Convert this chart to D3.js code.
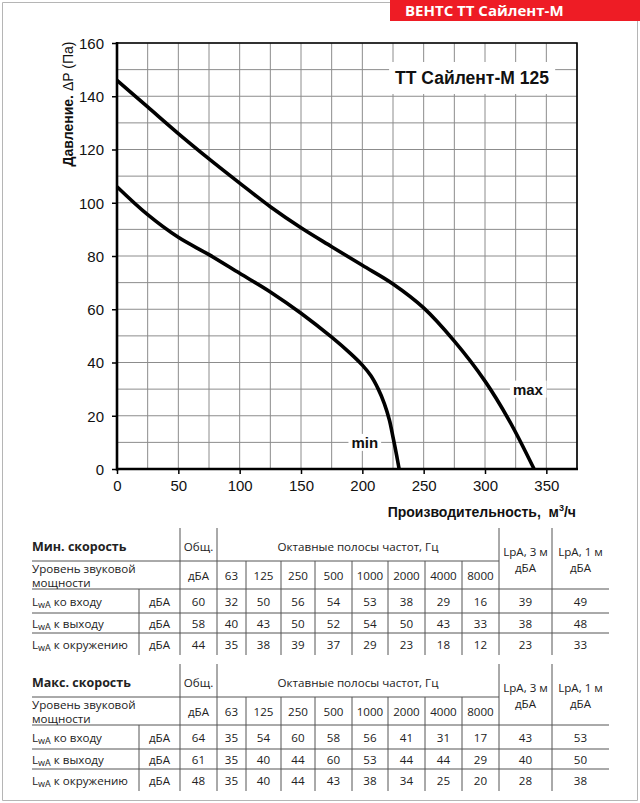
<!DOCTYPE html>
<html>
<head>
<meta charset="utf-8">
<script src="https://d3js.org/d3.v7.min.js"></script>
<style>
  body { margin: 0; padding: 0; background: #fff; }
  svg { display: block; }
  .tick text { font-family: "Liberation Sans", Arial, sans-serif; font-size: 15px; fill: #111; }
  .tick line { stroke: #000; stroke-width: 1.5; }
  .tbl { font-family: "Open Sans", sans-serif; font-size: 11.6px; fill: #222; }
</style>
</head>
<body>
<svg id="chart" width="640" height="803"></svg>
<script>
// fan curve data, pressure (Pa) vs airflow (m3/h)
var minFlow     = [0, 25, 50, 75, 100, 125, 150, 175, 190, 200, 207, 213, 218, 222, 225, 228, 230];
var minPressure = [106, 95.5, 87, 80.5, 73.5, 66.5, 58.5, 49.5, 43.5, 39, 35, 30, 24.5, 18.5, 12, 5, 0];
var maxFlow     = [0, 25, 50, 75, 100, 125, 150, 175, 200, 225, 250, 275, 300, 320, 340];
var maxPressure = [146, 136, 126, 116.5, 107.4, 98.5, 90.6, 83.5, 76.5, 69.5, 60.5, 48, 33, 18, 0];

var xTicks = [0, 50, 100, 150, 200, 250, 300, 350];
var yTicks = [0, 20, 40, 60, 80, 100, 120, 140, 160];

// sound tables
var octaveBands = ["63", "125", "250", "500", "1000", "2000", "4000", "8000"];
var rowLabels = ["ко входу", "к выходу", "к окружению"];
var minTotal = [60, 58, 44];
var minOctaves = [
  [32, 50, 56, 54, 53, 38, 29, 16],
  [40, 43, 50, 52, 54, 50, 43, 33],
  [35, 38, 39, 37, 29, 23, 18, 12]
];
var minLpA3 = [39, 38, 23];
var minLpA1 = [49, 48, 33];
var maxTotal = [64, 61, 48];
var maxOctaves = [
  [35, 54, 60, 58, 56, 41, 31, 17],
  [35, 40, 44, 60, 53, 44, 44, 29],
  [35, 40, 44, 43, 38, 34, 25, 20]
];
var maxLpA3 = [43, 40, 28];
var maxLpA1 = [53, 50, 38];

var svg = d3.select("#chart");

// outer frame + red banner
svg.append("path")
  .attr("d", "M390,2.5 H2.5 V800.5 H637.5 V21")
  .attr("fill", "none").attr("stroke", "#b5b5b5").attr("stroke-width", 1);
svg.append("rect").attr("x", 390).attr("y", 0).attr("width", 250).attr("height", 21).attr("fill", "#ee1c25");
svg.append("text").attr("x", 405).attr("y", 16)
  .style("font-family", "'Open Sans', sans-serif").style("font-weight", "bold").style("font-size", "15px")
  .attr("fill", "#fff").text("ВЕНТС ТТ Сайлент-М");

// scales
var x = d3.scaleLinear().domain([0, 375]).range([117, 577]);
var y = d3.scaleLinear().domain([0, 160]).range([469, 43]);

// grid
var grid = svg.append("g");
grid.selectAll(".vg").data(d3.range(25, 376, 25)).enter().append("line")
  .attr("x1", d => x(d)).attr("x2", d => x(d)).attr("y1", y(0)).attr("y2", y(160))
  .attr("stroke", "#8c8c8c").attr("stroke-width", 1);
grid.selectAll(".hg").data(d3.range(10, 161, 10)).enter().append("line")
  .attr("x1", x(0)).attr("x2", x(375)).attr("y1", d => y(d)).attr("y2", d => y(d))
  .attr("stroke", "#8c8c8c").attr("stroke-width", 1);

// frame top/right
svg.append("path")
  .attr("d", "M" + x(0) + "," + y(160) + " H" + x(375) + " V" + y(0))
  .attr("fill", "none").attr("stroke", "#000").attr("stroke-width", 1.6);

// axes
var yAxis = d3.axisLeft(y).tickValues(yTicks).tickSize(5).tickPadding(8);
var gy = svg.append("g").attr("transform", "translate(" + x(0) + ",0)").call(yAxis);
gy.select(".domain").remove();
gy.selectAll(".tick text").attr("dy", "0.35em");

var xAxis = d3.axisBottom(x).tickValues(xTicks).tickSize(5).tickPadding(6);
var gx = svg.append("g").attr("transform", "translate(0," + y(0) + ")").call(xAxis);
gx.select(".domain").remove();

svg.append("line").attr("x1", x(0)).attr("x2", x(0)).attr("y1", y(160) - 1).attr("y2", y(0) + 1.5)
  .attr("stroke", "#000").attr("stroke-width", 2.6);
svg.append("line").attr("x1", x(0) - 1).attr("x2", x(375) + 1).attr("y1", y(0)).attr("y2", y(0))
  .attr("stroke", "#000").attr("stroke-width", 2.6);

// curves
var line = d3.line().x(d => x(d[0])).y(d => y(d[1])).curve(d3.curveCatmullRom.alpha(0.5));
svg.append("path").datum(d3.zip(minFlow, minPressure)).attr("d", line)
  .attr("fill", "none").attr("stroke", "#000").attr("stroke-width", 3.6);
svg.append("path").datum(d3.zip(maxFlow, maxPressure)).attr("d", line)
  .attr("fill", "none").attr("stroke", "#000").attr("stroke-width", 3.6);

// curve labels with white background
function boxLabel(cx, cy, txt, size, padX, padY) {
  var t = svg.append("text").attr("x", cx).attr("y", cy).attr("text-anchor", "middle")
    .attr("dominant-baseline", "central")
    .style("font-family", "'Liberation Sans', Arial, sans-serif").style("font-weight", "bold")
    .style("font-size", size + "px").attr("fill", "#111").text(txt);
  var b = t.node().getBBox();
  svg.insert("rect", function () { return t.node(); })
    .attr("x", b.x - padX).attr("y", b.y - padY).attr("width", b.width + 2 * padX).attr("height", b.height + 2 * padY)
    .attr("fill", "#fff");
}
boxLabel(x(202), y(10), "min", 15, 3, 0);
boxLabel(x(335), y(30), "max", 15, 3, 0);
boxLabel(472, 78, "ТТ Сайлент-М 125", 17.5, 6, 6);

// axis titles
svg.append("text").attr("x", 576).attr("y", 517).attr("text-anchor", "end")
  .style("font-family", "'Liberation Sans', Arial, sans-serif").style("font-weight", "bold").style("font-size", "14px")
  .attr("fill", "#111")
  .html("Производительность,&#160; м<tspan dy='-6' font-size='9px'>3</tspan><tspan dy='6'>/ч</tspan>");

svg.append("text").attr("transform", "translate(73,104) rotate(-90)").attr("text-anchor", "middle")
  .style("font-family", "'Liberation Sans', Arial, sans-serif").style("font-size", "14px").attr("fill", "#111")
  .html("<tspan font-weight='bold'>Давление. </tspan>ΔP (Па)");

// ---- sound tables ----
var colX = [32, 139, 180, 217, 246, 281, 315, 352, 388, 425, 462, 499, 552, 609];
var lineCol = "#555";

function drawTable(top, rows, title, total, oct, l3, l1) {
  var g = svg.append("g").attr("class", "tbl");
  var r0 = top, r1 = top + 33, r2 = top + 61, r3 = top + 85, r4 = top + 105, r5 = top + 127;
  function hl(y0, xa, xb) {
    g.append("line").attr("x1", xa).attr("x2", xb).attr("y1", y0).attr("y2", y0)
      .attr("stroke", lineCol).attr("stroke-width", 1);
  }
  function vl(x0, ya, yb) {
    g.append("line").attr("x1", x0).attr("x2", x0).attr("y1", ya).attr("y2", yb)
      .attr("stroke", lineCol).attr("stroke-width", 1);
  }
  hl(r1, colX[0], colX[11]);
  hl(r2, colX[0], colX[13]);
  hl(r3, colX[0], colX[13]);
  hl(r4, colX[0], colX[13]);
  vl(colX[2], r0, r5); vl(colX[3], r0, r5);
  vl(colX[11], r0, r5); vl(colX[12], r0, r5);
  for (var i = 4; i <= 10; i++) vl(colX[i], r1, r5);
  vl(colX[1], r2, r5);

  function txt(xx, yy, s, anchor, bold) {
    return g.append("text").attr("x", xx).attr("y", yy).attr("text-anchor", anchor || "middle")
      .attr("dominant-baseline", "central").style("font-weight", bold ? "bold" : "normal").text(s);
  }
  function mid(i) { return (colX[i] + colX[i + 1]) / 2; }

  txt(colX[0], (r0 + r1) / 2 + 2, title, "start", true).style("font-size", "12.5px");
  txt(mid(2), (r0 + r1) / 2 + 2, "Общ.");
  txt((colX[3] + colX[11]) / 2, (r0 + r1) / 2 + 2, "Октавные полосы частот, Гц");
  txt(mid(11), (r0 + r2) / 2 - 7, "LpA, 3 м");
  txt(mid(11), (r0 + r2) / 2 + 9, "дБА");
  txt(mid(12), (r0 + r2) / 2 - 7, "LpA, 1 м");
  txt(mid(12), (r0 + r2) / 2 + 9, "дБА");

  txt(colX[0], (r1 + r2) / 2 - 7, "Уровень звуковой", "start");
  txt(colX[0], (r1 + r2) / 2 + 7, "мощности", "start");
  txt(mid(2), (r1 + r2) / 2, "дБА");
  octaveBands.forEach(function (b, j) { txt(mid(3 + j), (r1 + r2) / 2, b); });

  var rowMid = [(r2 + r3) / 2, (r3 + r4) / 2, (r4 + r5) / 2];
  rows.forEach(function (lab, k) {
    var t = txt(colX[0], rowMid[k], null, "start");
    t.append("tspan").text("L");
    t.append("tspan").attr("font-size", "9px").attr("dy", 3).text("wA");
    t.append("tspan").attr("dy", -3).text(" " + lab);
    txt(mid(1), rowMid[k], "дБА");
    txt(mid(2), rowMid[k], total[k]);
    oct[k].forEach(function (v, j) { txt(mid(3 + j), rowMid[k], v); });
    txt(mid(11), rowMid[k], l3[k]);
    txt(mid(12), rowMid[k], l1[k]);
  });
}

drawTable(528, rowLabels, "Мин. скорость", minTotal, minOctaves, minLpA3, minLpA1);
drawTable(664, rowLabels, "Макс. скорость", maxTotal, maxOctaves, maxLpA3, maxLpA1);
</script>
</body>
</html>
